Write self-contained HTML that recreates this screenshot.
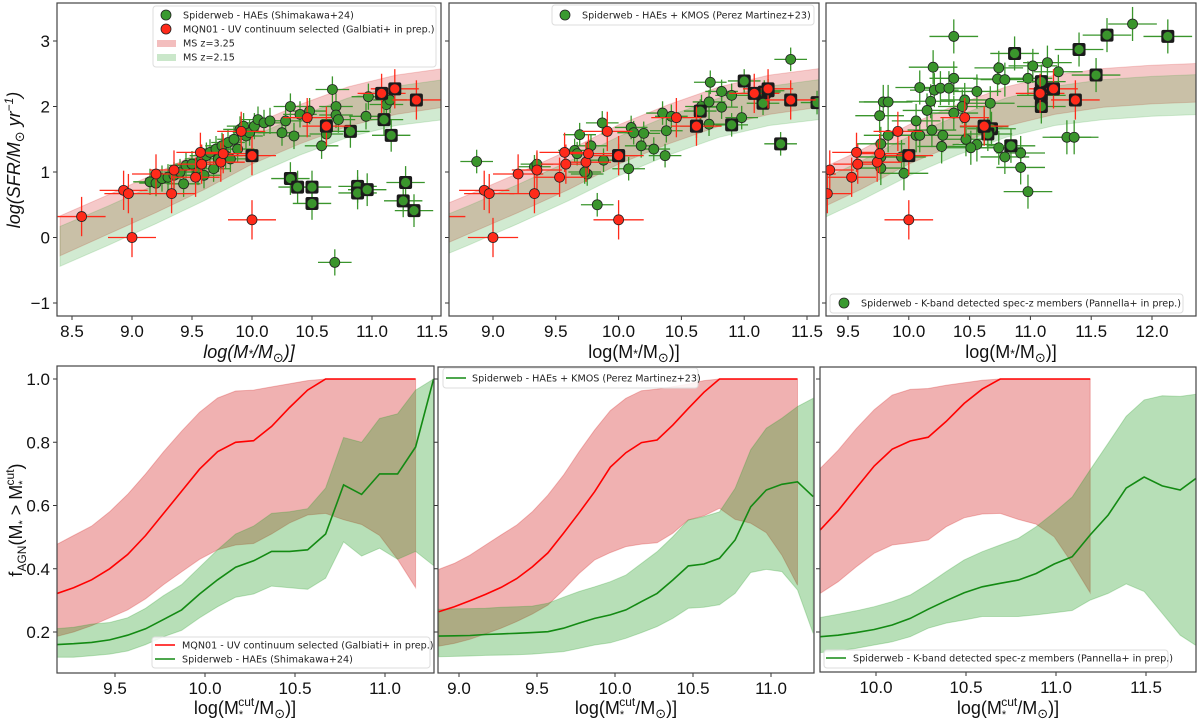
<!DOCTYPE html>
<html><head><meta charset="utf-8"><style>
html,body{margin:0;padding:0;background:#fff;}
svg{display:block;font-family:"Liberation Sans","DejaVu Sans",sans-serif;}
.tk{font-size:17px;fill:#111;}
.lg{font-size:9.6px;fill:#222;font-family:"DejaVu Sans","Liberation Sans",sans-serif;}
.at{font-size:18px;fill:#111;}
</style></head><body>
<svg id="chart" width="1200" height="720" viewBox="0 0 1200 720" xmlns="http://www.w3.org/2000/svg">
<defs>
<clipPath id="c-tl"><rect x="57" y="3" width="384" height="313"/></clipPath>
<clipPath id="c-tm"><rect x="449" y="3" width="370" height="313"/></clipPath>
<clipPath id="c-tr"><rect x="826" y="3" width="370" height="313"/></clipPath>
<clipPath id="c-bl"><rect x="57" y="366" width="377" height="307"/></clipPath>
<clipPath id="c-bm"><rect x="438" y="367" width="376" height="306"/></clipPath>
<clipPath id="c-br"><rect x="820" y="367" width="376" height="305"/></clipPath>
</defs>
<g id="layers"></g>
<!-- axis titles -->
<text class="at" x="20" y="160" transform="rotate(-90 20 160)" text-anchor="middle" font-style="italic">log(SFR/M<tspan font-size="13" dy="4">⊙</tspan><tspan dy="-4"> yr</tspan><tspan font-size="12" dy="-7">−1</tspan><tspan dy="7">)</tspan></text>
<text class="at" x="22" y="520" transform="rotate(-90 22 520)" text-anchor="middle">f<tspan font-size="12" dy="4">AGN</tspan><tspan dy="-4">(M</tspan><tspan font-size="11" dy="4">*</tspan><tspan dy="-4"> &gt; M</tspan><tspan font-size="11" dy="4">*</tspan><tspan font-size="12" dx="-5" dy="-12">cut</tspan><tspan dy="8">)</tspan></text>
<text class="at" x="249" y="358" text-anchor="middle" font-style="italic">log(M<tspan font-size="12">*</tspan>/M<tspan font-size="13" dy="4">⊙</tspan><tspan dy="-4">)]</tspan></text>
<text class="at" x="634" y="358" text-anchor="middle">log(M<tspan font-size="12">*</tspan>/M<tspan font-size="13" dy="4">⊙</tspan><tspan dy="-4">)]</tspan></text>
<text class="at" x="1011" y="358" text-anchor="middle">log(M<tspan font-size="12">*</tspan>/M<tspan font-size="13" dy="4">⊙</tspan><tspan dy="-4">)]</tspan></text>
<text class="at" x="245" y="714" text-anchor="middle">log(M<tspan font-size="11" dy="4">*</tspan><tspan font-size="12" dx="-5" dy="-12">cut</tspan><tspan dy="8">/M</tspan><tspan font-size="13" dy="4">⊙</tspan><tspan dy="-4">)]</tspan></text>
<text class="at" x="626" y="714" text-anchor="middle">log(M<tspan font-size="11" dy="4">*</tspan><tspan font-size="12" dx="-5" dy="-12">cut</tspan><tspan dy="8">/M</tspan><tspan font-size="13" dy="4">⊙</tspan><tspan dy="-4">)]</tspan></text>
<text class="at" x="1008" y="714" text-anchor="middle">log(M<tspan font-size="11" dy="4">*</tspan><tspan font-size="12" dx="-5" dy="-12">cut</tspan><tspan dy="8">/M</tspan><tspan font-size="13" dy="4">⊙</tspan><tspan dy="-4">)]</tspan></text>
<!-- legends -->
<g>
<rect x="153" y="6" width="283" height="61" rx="3" fill="#fff" fill-opacity="0.85" stroke="#ddd"/>
<circle cx="166" cy="15" r="5" fill="#3a9a30" stroke="#222" stroke-width="0.8"/>
<text class="lg" x="183" y="18.5">Spiderweb - HAEs (Shimakawa+24)</text>
<circle cx="166" cy="29" r="5" fill="#ff2a1a" stroke="#222" stroke-width="0.8"/>
<text class="lg" x="183" y="32.5">MQN01 - UV continuum selected (Galbiati+ in prep.)</text>
<rect x="157" y="40" width="19" height="7" fill="#d62728" fill-opacity="0.3"/>
<text class="lg" x="183" y="46.5">MS z=3.25</text>
<rect x="157" y="54" width="19" height="7" fill="#2ca02c" fill-opacity="0.25"/>
<text class="lg" x="183" y="60.5">MS z=2.15</text>
</g>
<g>
<rect x="552" y="5" width="262" height="20" rx="3" fill="#fff" fill-opacity="0.85" stroke="#ddd"/>
<circle cx="565" cy="15" r="5" fill="#3a9a30" stroke="#222" stroke-width="0.8"/>
<text class="lg" x="582" y="18.5">Spiderweb - HAEs + KMOS (Perez Martinez+23)</text>
</g>
<g>
<rect x="830" y="294" width="353" height="19" rx="3" fill="#fff" fill-opacity="0.85" stroke="#ddd"/>
<circle cx="844" cy="303" r="5" fill="#3a9a30" stroke="#222" stroke-width="0.8"/>
<text class="lg" x="861" y="306.5">Spiderweb - K-band detected spec-z members (Pannella+ in prep.)</text>
</g>
<g>
<rect x="152" y="637" width="278" height="31" rx="3" fill="#fff" fill-opacity="0.85" stroke="#ddd"/>
<line x1="155" y1="645" x2="175" y2="645" stroke="#ff0000" stroke-width="1.5"/>
<text class="lg" x="182" y="648.5">MQN01 - UV continuum selected (Galbiati+ in prep.)</text>
<line x1="155" y1="659" x2="175" y2="659" stroke="#138a13" stroke-width="1.5"/>
<text class="lg" x="182" y="662.5">Spiderweb - HAEs (Shimakawa+24)</text>
</g>
<g>
<rect x="443" y="368" width="255" height="20" rx="3" fill="#fff" fill-opacity="0.85" stroke="#ddd"/>
<line x1="446" y1="378" x2="466" y2="378" stroke="#138a13" stroke-width="1.5"/>
<text class="lg" x="472" y="381.5">Spiderweb - HAEs + KMOS (Perez Martinez+23)</text>
</g>
<g>
<rect x="824" y="650" width="344" height="18" rx="3" fill="#fff" fill-opacity="0.85" stroke="#ddd"/>
<line x1="826" y1="658" x2="846" y2="658" stroke="#138a13" stroke-width="1.5"/>
<text class="lg" x="853" y="661.5">Spiderweb - K-band detected spec-z members (Pannella+ in prep.)</text>
</g>
</svg>
<script>
// ---------- data: main-sequence bands ----------
const msMass  = [8.4,8.8,9.2,9.6,10.0,10.4,10.8,11.2,11.6,12.0,12.4];
const ms325Hi = [0.33,0.65,0.98,1.33,1.72,2.03,2.30,2.48,2.58,2.63,2.66];
const ms325Lo = [-0.28,0.05,0.38,0.73,1.12,1.43,1.70,1.88,1.99,2.04,2.07];
const ms215Hi = [0.17,0.48,0.81,1.16,1.54,1.86,2.13,2.31,2.41,2.46,2.49];
const ms215Lo = [-0.44,-0.12,0.21,0.56,0.94,1.26,1.53,1.71,1.80,1.85,1.88];
// ---------- data: MQN01 points (all top panels) ----------
const mqnMass = [8.58,8.93,8.97,9.0,9.2,9.33,9.35,9.53,9.57,9.58,9.74,9.76,9.91,10.0,10.0,10.46,10.62,11.08,11.19,11.37];
const mqnSfr  = [0.32,0.72,0.67,0.0,0.97,0.67,1.03,0.92,1.3,1.12,1.15,1.28,1.62,0.27,1.25,1.83,1.7,2.2,2.27,2.1];
const mqnAgn  = [0,0,0,0,0,0,0,0,0,0,0,0,0,0,1,0,1,1,1,1];
// ---------- data: Shimakawa HAEs ----------
const haeMass = [9.15,9.2,9.25,9.3,9.35,9.4,9.43,9.45,9.5,9.55,9.58,9.6,9.62,9.65,9.68,9.7,9.72,9.75,9.78,9.8,9.82,9.85,9.88,9.9,9.93,9.95,9.98,10.02,10.05,10.1,10.15,10.25,10.28,10.32,10.35,10.4,10.48,10.58,10.62,10.67,10.7,10.7,10.72,10.95,10.97,11.12,11.15,10.69];
const haeSfr  = [0.85,0.83,0.9,0.92,0.95,1.0,0.82,1.1,1.12,1.0,1.2,0.95,1.25,1.3,1.05,1.35,1.2,1.4,1.25,1.45,1.2,1.5,1.35,1.65,1.7,1.55,1.6,1.7,1.8,1.75,1.78,1.6,1.78,2.0,1.55,1.88,1.93,1.4,1.58,2.26,2.0,1.87,1.8,1.85,2.15,2.03,2.1,-0.38];
const haeAgnMass = [10.32,10.38,10.5,10.5,10.88,10.88,10.96,11.26,11.28,11.35,10.82,11.1,11.16];
const haeAgnSfr  = [0.9,0.77,0.77,0.52,0.78,0.68,0.73,0.56,0.84,0.41,1.62,1.8,1.56];
// ---------- data: KMOS ----------
const kmosMass = [8.87,9.33,9.35,9.69,9.65,9.67,9.78,9.75,9.73,9.83,9.87,9.88,10.08,10.1,10.12,10.18,10.2,10.28,10.35,10.37,10.38,10.42,10.66,10.73,10.72,10.72,10.82,10.82,10.9,10.98,11.37];
const kmosSfr  = [1.16,1.08,1.12,1.57,1.33,1.28,1.4,0.97,1.0,0.5,1.75,1.18,1.05,1.68,1.6,1.4,1.59,1.35,1.9,1.25,1.63,1.85,2.0,2.37,2.07,1.73,2.23,1.99,2.17,1.83,2.72];
const kmosAgnMass = [10.65,10.62,10.9,11.0,11.15,11.16,11.19,11.29,11.58,10.0];
const kmosAgnSfr  = [1.93,1.7,1.72,2.39,2.05,2.22,2.24,1.43,2.06,1.25];
// ---------- data: K-band spec-z ----------
const kbMass = [10.37,11.84,11.14,11.02,10.74,10.2,10.37,10.73,10.79,10.98,11.23,10.09,10.21,10.26,10.33,10.56,9.79,9.83,10.18,10.46,10.67,10.44,10.15,9.76,10.06,10.37,10.19,9.83,10.06,10.09,10.28,9.77,10.47,10.56,10.27,10.51,10.74,9.94,9.77,10.79,10.92,9.77,10.92,9.96,10.98,11.3,11.36];
const kbSfr  = [3.07,3.26,2.67,2.62,2.59,2.6,2.43,2.42,2.41,2.43,2.53,2.29,2.25,2.28,2.28,2.23,2.07,2.07,2.08,2.1,2.05,2.0,1.94,1.86,1.78,1.9,1.64,1.56,1.56,1.56,1.56,1.43,1.5,1.42,1.39,1.37,1.37,1.23,1.23,1.23,1.29,1.06,1.07,0.98,0.7,1.53,1.53];
const kbAgnMass = [12.13,11.63,11.4,10.87,11.54,11.09,11.09,11.09,10.62,10.68,10.65,10.84];
const kbAgnSfr  = [3.07,3.09,2.87,2.81,2.48,2.38,2.17,2.0,1.69,1.66,1.58,1.4];
// ---------- data: AGN fraction curves ----------
const blMass = [9.17,9.27,9.37,9.47,9.57,9.67,9.77,9.87,9.97,10.07,10.17,10.27,10.37,10.47,10.57,10.67,10.77,10.87,10.97,11.07,11.17,11.27];
const blRed   = [0.32,0.34,0.365,0.40,0.445,0.505,0.575,0.645,0.715,0.77,0.80,0.805,0.85,0.91,0.965,1.0,1.0,1.0,1.0,1.0,1.0];
const blRedHi = [0.475,0.505,0.535,0.58,0.635,0.70,0.77,0.835,0.895,0.94,0.962,0.965,0.975,0.985,0.995,1.0,1.0,1.0,1.0,1.0,1.0];
const blRedLo = [0.185,0.20,0.22,0.245,0.27,0.305,0.35,0.39,0.43,0.46,0.475,0.48,0.51,0.545,0.57,0.575,0.555,0.54,0.505,0.43,0.34];
const blGrn   = [0.16,0.163,0.167,0.175,0.19,0.21,0.24,0.27,0.32,0.365,0.405,0.425,0.455,0.455,0.46,0.51,0.665,0.635,0.70,0.70,0.785,1.0];
const blGrnHi = [0.21,0.215,0.225,0.23,0.245,0.275,0.315,0.35,0.405,0.46,0.51,0.535,0.575,0.58,0.59,0.655,0.815,0.80,0.875,0.89,0.965,1.0];
const blGrnLo = [0.12,0.12,0.125,0.13,0.14,0.16,0.185,0.205,0.245,0.28,0.31,0.32,0.345,0.34,0.335,0.37,0.485,0.44,0.465,0.43,0.455,0.41];
const bmMass = [8.87,8.97,9.07,9.17,9.27,9.37,9.47,9.57,9.67,9.77,9.87,9.97,10.07,10.17,10.27,10.37,10.47,10.57,10.67,10.77,10.87,10.97,11.07,11.17,11.27];
const bmRed   = [0.264,0.28,0.299,0.319,0.341,0.369,0.406,0.45,0.512,0.577,0.644,0.721,0.767,0.799,0.807,0.854,0.907,0.958,1.0,1.0,1.0,1.0,1.0,1.0];
const bmRedHi = [0.398,0.417,0.443,0.475,0.507,0.538,0.58,0.633,0.696,0.77,0.839,0.9,0.939,0.963,0.968,0.976,0.984,0.995,1.0,1.0,1.0,1.0,1.0,1.0];
const bmRedLo = [0.155,0.164,0.177,0.194,0.212,0.233,0.257,0.285,0.333,0.385,0.428,0.451,0.47,0.478,0.482,0.512,0.554,0.567,0.591,0.556,0.544,0.514,0.443,0.348];
const bmGrn   = [0.187,0.188,0.189,0.192,0.194,0.196,0.198,0.201,0.212,0.228,0.243,0.254,0.27,0.296,0.322,0.364,0.409,0.415,0.433,0.491,0.596,0.649,0.667,0.675,0.628];
const bmGrnHi = [0.272,0.273,0.274,0.275,0.278,0.28,0.282,0.291,0.31,0.328,0.343,0.359,0.38,0.417,0.454,0.501,0.554,0.565,0.58,0.654,0.776,0.844,0.876,0.913,0.939];
const bmGrnLo = [0.122,0.123,0.124,0.126,0.127,0.128,0.13,0.134,0.138,0.148,0.159,0.166,0.18,0.198,0.217,0.243,0.275,0.278,0.286,0.322,0.388,0.398,0.391,0.333,0.196];
const brMass = [9.69,9.79,9.89,9.99,10.09,10.19,10.29,10.39,10.49,10.59,10.69,10.79,10.89,10.99,11.09,11.19,11.29,11.39,11.49,11.59,11.69,11.79];
const brRed   = [0.523,0.584,0.655,0.725,0.778,0.804,0.816,0.866,0.923,0.968,1.0,1.0,1.0,1.0,1.0,1.0];
const brRedHi = [0.717,0.775,0.843,0.903,0.949,0.967,0.97,0.98,0.988,0.996,1.0,1.0,1.0,1.0,1.0,1.0];
const brRedLo = [0.322,0.359,0.406,0.449,0.475,0.482,0.491,0.533,0.561,0.573,0.575,0.556,0.541,0.501,0.417,0.324];
const brGrn   = [0.185,0.19,0.198,0.208,0.222,0.243,0.272,0.299,0.324,0.343,0.354,0.364,0.385,0.415,0.438,0.507,0.57,0.655,0.69,0.662,0.649,0.691];
const brGrnHi = [0.246,0.256,0.267,0.28,0.296,0.317,0.352,0.391,0.428,0.454,0.475,0.496,0.533,0.578,0.627,0.713,0.797,0.882,0.934,0.947,0.945,0.953];
const brGrnLo = [0.135,0.141,0.148,0.159,0.169,0.185,0.212,0.228,0.238,0.249,0.249,0.249,0.254,0.261,0.268,0.301,0.322,0.352,0.328,0.259,0.19,0.153];
// ---------- tick labels ----------
const ticksTL = [8.5,9.0,9.5,10.0,10.5,11.0,11.5];
const ticksTM = [9.0,9.5,10.0,10.5,11.0,11.5];
const ticksTR = [9.5,10.0,10.5,11.0,11.5,12.0];
const ticksBL = [9.5,10.0,10.5,11.0];
const ticksBM = [9.0,9.5,10.0,10.5,11.0];
const ticksBR = [10.0,10.5,11.0,11.5];
const ticksSfr = [-1,0,1,2,3];
const ticksFrac = [0.2,0.4,0.6,0.8,1.0];

const NS = 'http://www.w3.org/2000/svg';
const root = document.getElementById('layers');
function mk(tag, attrs, parent){const e=document.createElementNS(NS,tag);for(const k in attrs)e.setAttribute(k,attrs[k]);(parent||root).appendChild(e);return e;}
function lin(d0,d1,p0,p1){return v=>p0+(v-d0)/(d1-d0)*(p1-p0);}

const GREEN='#3a952c', RED='#ff2a1a';

function panel(id, box, sx, sy, xt, yt, yLabels){
  const g = mk('g',{});
  
  
  const plot = mk('g',{'clip-path':'url(#c-'+id+')'}, g);
  
  
  const ax = mk('g',{}, g);
  
  
  const [x0,y0,x1,y1]=box;
  xt.forEach(v=>{
    const x=sx(v);
    const t=mk('line',{x1:x,x2:x,y1:y1,y2:y1+4,stroke:'#333','stroke-width':1},ax);
    
    
    const l=mk('text',{x:x,y:y1+21,'text-anchor':'middle',class:'tk'},ax);
    l.textContent=v.toFixed(1);
    
    
  });
  yt.forEach(v=>{
    const y=sy(v);
    const t=mk('line',{x1:x0-4,x2:x0,y1:y,y2:y,stroke:'#333','stroke-width':1},ax);
    
    
    if(yLabels){
      const l=mk('text',{x:x0-7,y:y+6,'text-anchor':'end',class:'tk'},ax);
      l.textContent=yLabels(v);
      
      
    }
  });
  const fr=mk('rect',{x:x0,y:y0,width:x1-x0,height:y1-y0,fill:'none',stroke:'#444','stroke-width':1.2},ax);
  
  
  return plot;
}
function band(parent, xs, hi, lo, sx, sy, color, op, name){
  const n=Math.min(hi.length, lo.length);
  let d='';
  for(let i=0;i<n;i++) d+=(i?'L':'M')+sx(xs[i]).toFixed(1)+','+sy(hi[i]).toFixed(1);
  for(let i=n-1;i>=0;i--) d+='L'+sx(xs[i]).toFixed(1)+','+sy(lo[i]).toFixed(1);
  const p=mk('path',{d:d+'Z',fill:color,'fill-opacity':op,stroke:color,'stroke-opacity':op*0.8,'stroke-width':1},parent);
  
  
}
function line(parent, xs, ys, sx, sy, color, name){
  const pts=ys.map((v,i)=>sx(xs[i]).toFixed(1)+','+sy(v).toFixed(1)).join(' ');
  const p=mk('polyline',{points:pts,fill:'none',stroke:color,'stroke-width':1.6},parent);
  
  
}
function points(parent, ms, ss, sx, sy, color, xe, ye, agn, name){
  const g=mk('g',{},parent);
  
  
  ms.forEach((m,i)=>{
    const x=sx(m), y=sy(ss[i]);
    mk('line',{x1:sx(m-xe),x2:sx(m+xe),y1:y,y2:y,stroke:color,'stroke-width':1.3},g);
    mk('line',{x1:x,x2:x,y1:sy(ss[i]-ye),y2:sy(ss[i]+ye),stroke:color,'stroke-width':1.3},g);
  });
  ms.forEach((m,i)=>{
    const x=sx(m), y=sy(ss[i]);
    if(agn && agn[i]){
      const q=mk('rect',{x:x-6.5,y:y-6.5,width:13,height:13,rx:2,fill:'#1a1a1a'},g);
      
      
    }
    const c=mk('circle',{cx:x,cy:y,r:5,fill:color,stroke:'#222','stroke-width':0.8},g);
    
    
  });
}
function msBands(p, sx, sy){
  band(p, msMass, ms325Hi, ms325Lo, sx, sy, '#d62728', 0.25, 'ms-band-z3.25');
  band(p, msMass, ms215Hi, ms215Lo, sx, sy, '#2ca02c', 0.22, 'ms-band-z2.15');
}
const sfrY = lin(3,-1,41,303);
const sfrLab = v=> v<0 ? '\u2212'+Math.abs(v) : String(v);
const fracY = lin(1.0,0.2,379,632);
const ones = arr=>arr.map(()=>1);

// Top-left
{ const sx=lin(8.5,11.5,72,432);
  const p=panel('tl',[57,3,441,316],sx,sfrY,ticksTL,ticksSfr,sfrLab);
  msBands(p,sx,sfrY);
  points(p,haeMass,haeSfr,sx,sfrY,GREEN,0.14,0.2,null,'hae-points');
  points(p,haeAgnMass,haeAgnSfr,sx,sfrY,GREEN,0.16,0.25,ones(haeAgnMass),'hae-agn-points');
  points(p,mqnMass,mqnSfr,sx,sfrY,RED,0.2,0.3,mqnAgn,'mqn01-points');
}
// Top-middle
{ const sx=lin(9.0,11.5,493,807);
  const p=panel('tm',[449,3,819,316],sx,sfrY,ticksTM,ticksSfr,null);
  msBands(p,sx,sfrY);
  points(p,kmosMass,kmosSfr,sx,sfrY,GREEN,0.13,0.18,null,'kmos-points');
  points(p,kmosAgnMass,kmosAgnSfr,sx,sfrY,GREEN,0.13,0.18,ones(kmosAgnMass),'kmos-agn-points');
  points(p,mqnMass,mqnSfr,sx,sfrY,RED,0.2,0.3,mqnAgn,'mqn01-points');
}
// Top-right
{ const sx=lin(9.5,12.0,848,1152);
  const p=panel('tr',[826,3,1196,316],sx,sfrY,ticksTR,ticksSfr,null);
  msBands(p,sx,sfrY);
  points(p,kbMass,kbSfr,sx,sfrY,GREEN,0.2,0.26,null,'kband-points');
  points(p,kbAgnMass,kbAgnSfr,sx,sfrY,GREEN,0.2,0.26,ones(kbAgnMass),'kband-agn-points');
  points(p,mqnMass,mqnSfr,sx,sfrY,RED,0.2,0.3,mqnAgn,'mqn01-points');
}
// Bottom-left
{ const sx=lin(9.5,11.0,115,385);
  const p=panel('bl',[57,366,434,673],sx,fracY,ticksBL,ticksFrac,v=>v.toFixed(1));
  band(p,blMass,blRedHi,blRedLo,sx,fracY,'#d62728',0.36,'mqn01-fraction-band');
  band(p,blMass,blGrnHi,blGrnLo,sx,fracY,'#2ca02c',0.34,'hae-fraction-band');
  line(p,blMass,blRed,sx,fracY,'#ff0000','mqn01-fraction-line');
  line(p,blMass,blGrn,sx,fracY,'#138a13','hae-fraction-line');
}
// Bottom-middle
{ const sx=lin(9.0,11.0,459,771);
  const p=panel('bm',[438,367,814,673],sx,fracY,ticksBM,ticksFrac,null);
  band(p,bmMass,bmRedHi,bmRedLo,sx,fracY,'#d62728',0.36,'mqn01-fraction-band');
  band(p,bmMass,bmGrnHi,bmGrnLo,sx,fracY,'#2ca02c',0.34,'kmos-fraction-band');
  line(p,bmMass,bmRed,sx,fracY,'#ff0000','mqn01-fraction-line');
  line(p,bmMass,bmGrn,sx,fracY,'#138a13','kmos-fraction-line');
}
// Bottom-right
{ const sx=lin(10.0,11.5,876,1146);
  const p=panel('br',[820,367,1196,672],sx,fracY,ticksBR,ticksFrac,null);
  band(p,brMass,brRedHi,brRedLo,sx,fracY,'#d62728',0.36,'mqn01-fraction-band');
  band(p,brMass,brGrnHi,brGrnLo,sx,fracY,'#2ca02c',0.34,'kband-fraction-band');
  line(p,brMass,brRed,sx,fracY,'#ff0000','mqn01-fraction-line');
  line(p,brMass,brGrn,sx,fracY,'#138a13','kband-fraction-line');
}
</script>
</body></html>
